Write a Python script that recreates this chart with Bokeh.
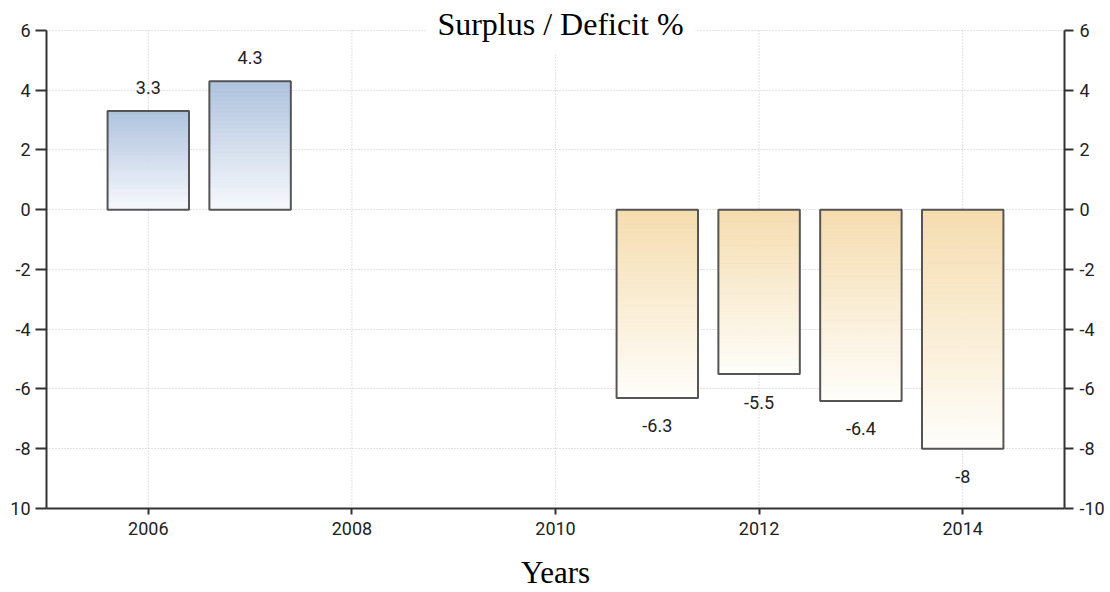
import numpy as np
from bokeh.plotting import figure
from bokeh.models import LinearAxis, FixedTicker, Label, ColumnDataSource, Range1d
from bokeh.core.properties import value
from bokeh.embed import file_html
from bokeh.resources import INLINE

# ---- data ----
years = [2006, 2007, 2011, 2012, 2013, 2014]
balance = [3.3, 4.3, -6.3, -5.5, -6.4, -8.0]
value_labels = ["3.3", "4.3", "-6.3", "-5.5", "-6.4", "-8"]
x_ticks = [2006, 2008, 2010, 2012, 2014]
y_ticks = [-10, -8, -6, -4, -2, 0, 2, 4, 6]
y_tick_labels = [str(t) for t in y_ticks]
left_y_tick_labels = ["10"] + y_tick_labels[1:]
title_text = "Surplus / Deficit %"
x_label = "Years"

# ---- style ----
BAR_W = 0.8
N = 48
POS_TOP = np.array([174, 194, 222])
POS_BOT = np.array([247, 249, 253])
NEG_TOP = np.array([245, 220, 174])
NEG_BOT = np.array([255, 254, 250])
TICK_FONT = "Roboto"
AXIS_COLOR = "#333333"
GRID_COLOR = "#c4c4c4"
Y_TOP_PAD = 1.0  # room above the top tick for the title


def hexc(c):
    return "#%02x%02x%02x" % tuple(int(round(v)) for v in c)


# gradient slices derived from the data values
g_left, g_right, g_bottom, g_top, g_color = [], [], [], [], []
edges = np.linspace(0.0, 1.0, N + 1)
for x, v in zip(years, balance):
    for i in range(N):
        a, b = v * edges[i], v * edges[i + 1]
        f = (edges[i] + edges[i + 1]) / 2.0
        if v >= 0:
            col = POS_BOT + (POS_TOP - POS_BOT) * f
        else:
            col = NEG_TOP + (NEG_BOT - NEG_TOP) * f
        g_left.append(x - BAR_W / 2)
        g_right.append(x + BAR_W / 2)
        g_bottom.append(min(a, b))
        g_top.append(max(a, b))
        g_color.append(hexc(col))

grad = ColumnDataSource(dict(left=g_left, right=g_right, bottom=g_bottom,
                             top=g_top, color=g_color))
bars = ColumnDataSource(dict(x=years, top=balance, label=value_labels,
                             off=[-24 if v >= 0 else 28 for v in balance]))
vgrid = ColumnDataSource(dict(x=x_ticks, y0=[y_ticks[0]] * len(x_ticks),
                              y1=[y_ticks[-1]] * len(x_ticks)))

p = figure(width=1110, height=592, title=None,
           x_range=Range1d(2005, 2015),
           y_range=Range1d(y_ticks[0], y_ticks[-1] + Y_TOP_PAD),
           output_backend="svg", toolbar_location=None,
           min_border_left=46, min_border_right=46,
           min_border_top=0, min_border_bottom=84)
p.outline_line_color = None
p.background_fill_color = "white"

# vertical dotted grid lines, only over the tick span
vg = p.segment(x0="x", x1="x", y0="y0", y1="y1", source=vgrid,
               line_color=GRID_COLOR, line_dash="1 2", line_width=1)
vg.level = "underlay"

p.quad(left="left", right="right", bottom="bottom", top="top", source=grad,
       fill_color="color", line_color="color", line_width=0.6)
p.vbar(x="x", top="top", bottom=0, width=BAR_W, source=bars,
       fill_color=None, line_color="#555555", line_width=2)
p.text(x="x", y="top", text="label", source=bars, y_offset="off",
       text_align="center", text_baseline="middle",
       text_font=value(TICK_FONT), text_font_size="18px", text_color="#222222")

# axes
right_axis = LinearAxis()
p.add_layout(right_axis, "right")

p.xaxis.ticker = FixedTicker(ticks=x_ticks)
p.yaxis.ticker = FixedTicker(ticks=y_ticks)
right_axis.ticker = FixedTicker(ticks=y_ticks)
p.yaxis[0].major_label_overrides = dict(zip(y_ticks, left_y_tick_labels))
right_axis.major_label_overrides = dict(zip(y_ticks, y_tick_labels))
p.yaxis[0].bounds = (y_ticks[0], y_ticks[-1])
right_axis.bounds = (y_ticks[0], y_ticks[-1])

for ax in [p.xaxis[0], p.yaxis[0], right_axis]:
    ax.axis_line_color = AXIS_COLOR
    ax.axis_line_width = 2
    ax.major_tick_line_color = AXIS_COLOR
    ax.major_tick_line_width = 2
    ax.major_tick_in = 0
    ax.minor_tick_line_color = None
    ax.major_label_text_font = TICK_FONT
    ax.major_label_text_font_size = "18px"
    ax.major_label_text_color = "#222222"

p.yaxis[0].major_tick_out = 11
p.yaxis[0].major_label_standoff = 5
right_axis.major_tick_out = 9
right_axis.major_label_standoff = 6
p.xaxis[0].major_tick_out = 6
p.xaxis[0].major_label_standoff = 7

p.xaxis[0].axis_label = x_label
p.xaxis[0].axis_label_text_font = "Liberation Serif"
p.xaxis[0].axis_label_text_font_size = "31px"
p.xaxis[0].axis_label_text_font_style = "normal"
p.xaxis[0].axis_label_text_color = "black"
p.xaxis[0].axis_label_standoff = 17

# grid
p.xgrid.visible = False
p.ygrid[0].grid_line_color = GRID_COLOR
p.ygrid[0].grid_line_dash = "1 2"
p.ygrid[0].grid_line_width = 1

# title inside the plot area
title = Label(x=2010, y=y_ticks[-1], text=title_text, text_font="Liberation Serif",
              text_font_size="32px", text_color="black",
              text_align="center", text_baseline="alphabetic",
              x_offset=5, y_offset=6,
              background_fill_color="white", padding=12)
p.add_layout(title)

open("out.html", "w").write(file_html(p, INLINE))
